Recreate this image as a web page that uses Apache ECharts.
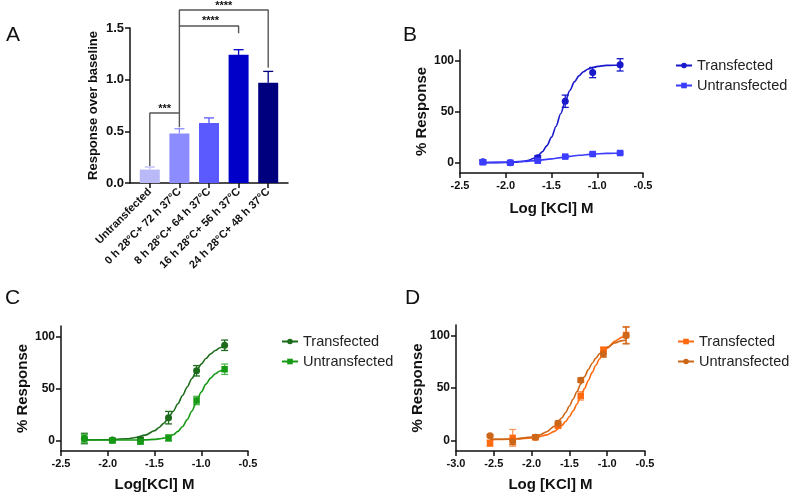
<!DOCTYPE html>
<html><head><meta charset="utf-8">
<script src="https://cdn.jsdelivr.net/npm/echarts@6/dist/echarts.min.js"></script>
<style>html,body{margin:0;padding:0;background:#fff}#c{width:791px;height:494px}</style>
</head><body><div id="c"></div>
<script>
// ---------- Panel A data ----------
const catsA = ['Untransfected','0 h 28°C+ 72 h 37°C','8 h 28°C+ 64 h 37°C','16 h 28°C+ 56 h 37°C','24 h 28°C+ 48 h 37°C'];
const valsA = [0.13, 0.48, 0.58, 1.24, 0.97];
const errA = [0.025, 0.045, 0.05, 0.05, 0.11];
// significance brackets (category index, value)
const sig1Path = [[0,0.165],[0,0.677],[1,0.677],[1,0.54]];
const sig2Path = [[1,0.677],[1,1.52],[3,1.52],[3,1.45]];
const sig3Path = [[1,1.52],[1,1.674],[4,1.674],[4,1.115]];
const sigText = [[0.5,0.677,'***'],[2.05,1.52,'****'],[2.5,1.674,'****']];

// ---------- Panel B data ----------
const bX = [-2.25,-1.95,-1.65,-1.35,-1.05,-0.75];
const bTrans = [1, 0, 5, 60, 88, 95.5];
const bTransErr = [2, 1.5, 2, 6, 5, 6];
const bUntrans = [0.5, 0, 2, 6, 8.5, 9.5];
const bUntransErr = [1.5, 1, 1, 1, 1, 1];
const bCurveX = [-2.25,-2.0,-1.9,-1.8,-1.75,-1.7,-1.65,-1.6,-1.55,-1.5,-1.45,-1.4,-1.35,-1.3,-1.25,-1.2,-1.15,-1.1,-1.05,-1.0,-0.9,-0.75];
const bTransCurve = [0.0,0.2,0.5,1.5,2.5,4.1,6.7,10.7,16.7,25.0,35.6,47.8,59.8,70.5,78.9,84.8,88.8,91.4,93.0,94.0,95.0,95.4];
const bUntransCurveX = [-2.25,-2.0,-1.8,-1.65,-1.5,-1.4,-1.3,-1.2,-1.05,-0.9,-0.75];
const bUntransCurve = [0.3,0.6,1.3,2.3,3.8,5.0,6.2,7.3,8.4,9.1,9.5];

// ---------- Panel C data ----------
const cX = [-2.25,-1.95,-1.65,-1.35,-1.05,-0.75];
const cTrans = [2, 0.5, 1, 22, 67, 91.5];
const cTransErr = [5, 1.5, 2, 6, 5, 5];
const cUntrans = [2, 0, -1, 2.5, 38.5, 68.5];
const cUntransErr = [4, 1.5, 2, 3, 4, 5];
const cCurveX = [-2.25,-2.0,-1.8,-1.7,-1.6,-1.5,-1.45,-1.4,-1.35,-1.3,-1.25,-1.2,-1.15,-1.1,-1.05,-1.0,-0.95,-0.9,-0.85,-0.8,-0.75];
const cTransCurve = [0.6,0.8,1.7,2.9,5.2,9.4,12.6,16.7,21.9,28.2,35.4,43.3,51.5,59.6,67.0,73.4,78.8,83.2,86.5,89.1,91.0];
const cUntransCurve = [0.5,0.5,0.5,0.6,0.7,1.2,1.6,2.4,3.6,5.6,8.8,13.5,20.1,28.4,37.6,46.6,54.2,60.0,64.1,66.8,68.5];

// ---------- Panel D data ----------
const dX = [-2.55,-2.25,-1.95,-1.65,-1.35,-1.05,-0.75];
const dTrans = [-2.5, 2.5, 3, 14, 42.5, 86.5, 100.5];
const dTransErr = [3, 8, 2, 2, 4, 2, 8];
const dUntrans = [4.5, -1, 3, 16.5, 57.5, 82.5, 100];
const dUntransErr = [1, 3, 1.5, 2, 2, 3, 8];
const dCurveX = [-2.55,-2.4,-2.2,-2.0,-1.9,-1.8,-1.7,-1.6,-1.55,-1.5,-1.45,-1.4,-1.35,-1.3,-1.25,-1.2,-1.15,-1.1,-1.05,-1.0,-0.9,-0.8,-0.75];
const dTransCurve = [1.1,1.1,1.4,2.4,3.5,5.4,8.7,14.2,18.1,22.8,28.3,34.8,41.9,49.4,57.1,64.6,71.6,77.9,83.3,87.8,94.4,98.5,99.9];
const dUntransCurve = [1.1,1.2,1.7,3.3,5.1,8.3,13.5,21.5,26.7,32.8,39.5,46.6,53.8,60.9,67.5,73.4,78.5,82.7,86.2,88.9,92.8,95.1,95.8];

const yTicksPct = [0, 50, 100];
const legendNames = {B_T:'Transfected', B_U:'Untransfected', C_T:'Transfected', C_U:'Untransfected', D_T:'Transfected', D_U:'Untransfected'};

// ---------- helpers ----------
const FF = '"Liberation Sans", Arial, sans-serif';
const zip = (xs, ys) => xs.map((x, i) => [x, ys[i]]);
const zip3 = (xs, ys, es) => xs.map((x, i) => [x, ys[i], es[i]]);

function errRender(color, upOnly, cap) {
  return function (params, api) {
    const x = api.value(0), y = api.value(1), e = api.value(2);
    const lo = api.coord([x, upOnly ? y : y - e]);
    const hi = api.coord([x, y + e]);
    const st = {stroke: color, lineWidth: 1.3};
    const ch = [{type: 'line', shape: {x1: lo[0], y1: lo[1], x2: hi[0], y2: hi[1]}, style: st},
                {type: 'line', shape: {x1: hi[0] - cap, y1: hi[1], x2: hi[0] + cap, y2: hi[1]}, style: st}];
    if (!upOnly) ch.push({type: 'line', shape: {x1: lo[0] - cap, y1: lo[1], x2: lo[0] + cap, y2: lo[1]}, style: st});
    return {type: 'group', children: ch};
  };
}

function valueX(grid, min, name, gap) {
  return {gridIndex: grid, type: 'value', min: min, max: -0.5, interval: 0.5,
    name: name, nameLocation: 'middle', nameGap: gap,
    nameTextStyle: {fontFamily: FF, fontWeight: 'bold', fontSize: 15, color: '#111'},
    axisLine: {onZero: false, lineStyle: {color: '#111', width: 1.5}},
    axisTick: {length: 5, lineStyle: {color: '#111', width: 1.5}},
    axisLabel: {fontFamily: FF, fontWeight: 'bold', fontSize: 11, color: '#111', margin: 7,
      formatter: v => v.toFixed(1)},
    splitLine: {show: false}};
}
function pctY(grid) {
  return {gridIndex: grid, type: 'value', min: -10, max: 110,
    name: '% Response', nameLocation: 'middle', nameGap: 31,
    nameTextStyle: {fontFamily: FF, fontWeight: 'bold', fontSize: 15, color: '#111'},
    axisLine: {show: true, onZero: false, lineStyle: {color: '#111', width: 1.5}},
    axisTick: {show: true, length: 5, customValues: yTicksPct, lineStyle: {color: '#111', width: 1.5}},
    axisLabel: {fontFamily: FF, fontWeight: 'bold', fontSize: 12, color: '#111', margin: 6, customValues: yTicksPct},
    splitLine: {show: false}};
}
function curve(name, grid, xs, ys, color, symbol) {
  return {name: name, type: 'line', xAxisIndex: grid, yAxisIndex: grid, data: zip(xs, ys),
    smooth: 0.3, smoothMonotone: 'x', showSymbol: false, symbol: symbol, symbolSize: 7,
    itemStyle: {color: color}, lineStyle: {color: color, width: 1.6}, z: 3};
}
function points(name, grid, xs, ys, color, symbol, size) {
  return {name: name, type: 'scatter', xAxisIndex: grid, yAxisIndex: grid, data: zip(xs, ys),
    symbol: symbol, symbolSize: size, itemStyle: {color: color, opacity: 1}, z: 4, clip: false};
}
function errs(name, grid, xs, ys, es, color) {
  return {name: name, type: 'custom', xAxisIndex: grid, yAxisIndex: grid, data: zip3(xs, ys, es),
    encode: {x: 0, y: 1}, renderItem: errRender(color, false, 3.5), z: 3, clip: false};
}
function legendAt(left, top, names) {
  return {left: left, top: top, orient: 'vertical', itemGap: 5, itemWidth: 16, itemHeight: 7,
    data: names, formatter: n => legendNames[n],
    textStyle: {fontFamily: FF, fontSize: 14.5, color: '#222'}};
}

const colA = ['#b9b9f7', '#8c8cff', '#5a5aff', '#0000c8', '#00007e'];
const bT = '#1818cc', bU = '#3c3cff';
const cT = '#1b6b1b', cU = '#169a16';
const dT = '#ff6a10', dU = '#cc6619';
const padA = 0.5 + 5 / 29.6;
const gray = '#555';

const option = {
  animation: false,
  grid: [
    {left: 130, top: 28, width: 158, height: 155},
    {left: 135, top: 28, width: 148, height: 155},
    {left: 460, top: 50, width: 183, height: 123},
    {left: 61, top: 326, width: 187, height: 125},
    {left: 456, top: 325, width: 189, height: 126}
  ],
  xAxis: [
    {gridIndex: 0, type: 'value', min: -padA, max: 4 + padA,
      axisLine: {onZero: false, lineStyle: {color: '#111', width: 1.5}},
      axisTick: {show: false}, axisLabel: {show: false}, splitLine: {show: false}},
    {gridIndex: 1, type: 'category', data: catsA,
      axisLine: {show: false},
      axisTick: {show: true, alignWithLabel: true, length: 5, lineStyle: {color: '#111', width: 1.5}},
      axisLabel: {interval: 0, rotate: 45, fontFamily: FF, fontWeight: 'bold', fontSize: 11, color: '#111', margin: 7}},
    valueX(2, -2.5, 'Log [KCl] M', 28),
    valueX(3, -2.5, 'Log[KCl] M', 26),
    valueX(4, -3.0, 'Log [KCl] M', 26)
  ],
  yAxis: [
    {gridIndex: 0, type: 'value', min: 0, max: 1.5, interval: 0.5,
      name: 'Response over baseline', nameLocation: 'middle', nameGap: 30,
      nameTextStyle: {fontFamily: FF, fontWeight: 'bold', fontSize: 13, color: '#111'},
      axisLine: {show: true, onZero: false, lineStyle: {color: '#111', width: 1.5}},
      axisTick: {show: true, length: 5, lineStyle: {color: '#111', width: 1.5}},
      axisLabel: {fontFamily: FF, fontWeight: 'bold', fontSize: 13, color: '#111', margin: 6, formatter: v => v.toFixed(1)},
      splitLine: {show: false}},
    {gridIndex: 1, type: 'value', min: 0, max: 1.5, show: false, splitLine: {show: false}},
    pctY(2), pctY(3), pctY(4)
  ],
  legend: [
    legendAt(670, 53, ['B_T', 'B_U']),
    legendAt(276, 329, ['C_T', 'C_U']),
    legendAt(672, 329, ['D_T', 'D_U'])
  ],
  series: [
    // Panel A
    {type: 'bar', xAxisIndex: 1, yAxisIndex: 1, barWidth: 20,
      data: valsA.map((v, i) => ({value: v, itemStyle: {color: colA[i]}})), z: 2},
    {type: 'custom', xAxisIndex: 1, yAxisIndex: 1, data: valsA.map((v, i) => [i, v, errA[i]]),
      encode: {x: 0, y: 1},
      renderItem: function (params, api) {
        const idx = api.value(0);
        return errRender(colA[idx], true, 5)(params, api);
      }, z: 3},
    {type: 'line', xAxisIndex: 0, yAxisIndex: 0, data: sig1Path, symbol: 'none', clip: false, lineStyle: {color: gray, width: 1.4}, z: 5},
    {type: 'line', xAxisIndex: 0, yAxisIndex: 0, data: sig2Path, symbol: 'none', clip: false, lineStyle: {color: gray, width: 1.4}, z: 5},
    {type: 'line', xAxisIndex: 0, yAxisIndex: 0, data: sig3Path, symbol: 'none', clip: false, lineStyle: {color: gray, width: 1.4}, z: 5},
    {type: 'custom', xAxisIndex: 0, yAxisIndex: 0, data: sigText, clip: false, encode: {x: 0, y: 1},
      renderItem: function (params, api) {
        const p = api.coord([api.value(0), api.value(1)]);
        return {type: 'text', x: p[0], y: p[1] + 1,
          style: {text: sigText[params.dataIndex][2], align: 'center', verticalAlign: 'bottom',
            font: 'bold 11px ' + FF, fill: '#111'}};
      }, z: 6},
    // Panel B
    curve('B_T', 2, bCurveX, bTransCurve, bT, 'circle'),
    curve('B_U', 2, bUntransCurveX, bUntransCurve, bU, 'rect'),
    errs('B_T', 2, bX, bTrans, bTransErr, bT),
    errs('B_U', 2, bX, bUntrans, bUntransErr, bU),
    points('B_T', 2, bX, bTrans, bT, 'circle', 7),
    points('B_U', 2, bX, bUntrans, bU, 'rect', 6.5),
    // Panel C
    curve('C_T', 3, cCurveX, cTransCurve, cT, 'circle'),
    curve('C_U', 3, cCurveX, cUntransCurve, cU, 'rect'),
    errs('C_T', 3, cX, cTrans, cTransErr, cT),
    errs('C_U', 3, cX, cUntrans, cUntransErr, '#4fb84f'),
    points('C_T', 3, cX, cTrans, cT, 'circle', 7),
    points('C_U', 3, cX, cUntrans, cU, 'rect', 6.5),
    // Panel D
    curve('D_T', 4, dCurveX, dTransCurve, dT, 'rect'),
    curve('D_U', 4, dCurveX, dUntransCurve, dU, 'circle'),
    errs('D_T', 4, dX, dTrans, dTransErr, '#ff9a5a'),
    errs('D_U', 4, dX, dUntrans, dUntransErr, dU),
    points('D_T', 4, dX, dTrans, dT, 'rect', 6.5),
    points('D_U', 4, dX, dUntrans, dU, 'circle', 7)
  ],
  graphic: [
    {type: 'text', left: 6, top: 25, style: {text: 'A', font: '21px ' + FF, fill: '#111'}},
    {type: 'text', left: 403, top: 25, style: {text: 'B', font: '21px ' + FF, fill: '#111'}},
    {type: 'text', left: 5, top: 288, style: {text: 'C', font: '21px ' + FF, fill: '#111'}},
    {type: 'text', left: 405, top: 288, style: {text: 'D', font: '21px ' + FF, fill: '#111'}}
  ]
};

const chart = echarts.init(document.getElementById('c'), null, {renderer: 'canvas'});
chart.setOption(option);
</script>
</body></html>
